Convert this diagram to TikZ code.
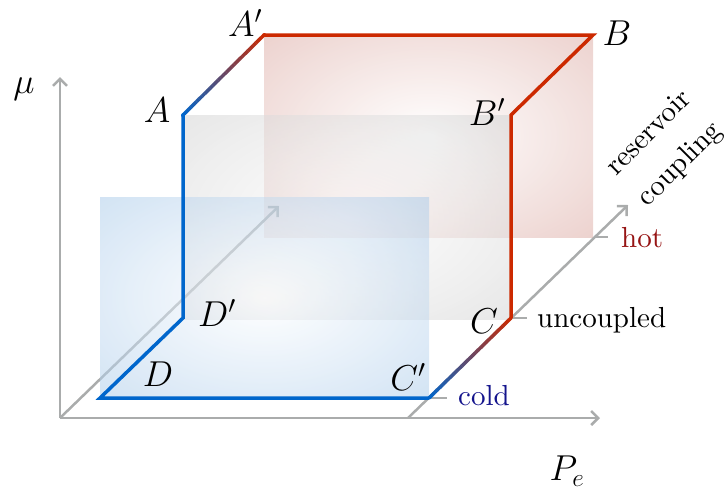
\RequirePackage{fix-cm}
\documentclass[tikz,border=0pt]{standalone}
\usetikzlibrary{arrows.meta,calc}
\definecolor{lblue}{RGB}{0,102,204}
\definecolor{lred}{RGB}{204,41,0}
\definecolor{axgray}{RGB}{170,172,172}
\definecolor{coldc}{RGB}{20,20,140}
\definecolor{hotc}{RGB}{150,20,20}
\definecolor{bluep}{RGB}{135,181,225}
\definecolor{grayp}{RGB}{192,192,192}
\definecolor{redp}{RGB}{205,135,125}
\pgfdeclareradialshading{shblue}{\pgfpoint{0bp}{0bp}}{color(0bp)=(white); color(50bp)=(bluep)}
\pgfdeclareradialshading{shgray}{\pgfpoint{0bp}{0bp}}{color(0bp)=(white); color(50bp)=(grayp)}
\pgfdeclareradialshading{shred}{\pgfpoint{0bp}{0bp}}{color(0bp)=(white); color(50bp)=(redp)}
\newcommand{\bigtxt}[1]{\scalebox{2.9}{\fontsize{10}{12}\selectfont #1}}
\begin{document}
\begin{tikzpicture}[x=1pt,y=-1pt,
  axis/.style={draw=axgray, line width=2.5pt, -{Straight Barb[length=7pt,width=14pt]}},
  tickline/.style={draw=axgray, line width=2.5pt},
  pathline/.style={line width=3.5pt, line cap=round, line join=miter},
  ptlabel/.style={font=\fontsize{36}{40}\selectfont, inner sep=0pt},
  txt/.style={inner sep=0pt},
  plane/.style={fill opacity=0.53}]
\useasboundingbox (0,0) rectangle (728,496);

% planes
\shade[plane, shading=shred] (264,35) rectangle (593,237);
\shade[plane, shading=shgray] (183,115) rectangle (511,319);

% axes
\coordinate (O) at (60,418);
\coordinate (mutip) at (60,77);
\coordinate (petip) at (600,418);
\coordinate (dtip) at (279,206);
\coordinate (S) at (408,418);
\coordinate (stip) at (628,205);
\draw[axis] (O) -- (dtip);

\shade[plane, shading=shblue] (100,197) rectangle (429,398);

\draw[axis] (O) -- (mutip);
\draw[axis] (O) -- (petip);
\draw[axis] (S) -- (stip);

% ticks
\coordinate (tc) at (447,398);
\coordinate (tu) at (527,318);
\coordinate (th0) at (594,237);
\coordinate (th) at (608,237);

% cycle corners
\coordinate (D) at (100,398);
\coordinate (Dp) at (183,318);
\coordinate (A) at (183,115);
\coordinate (Ap) at (264,35);
\coordinate (B) at (593,35);
\coordinate (Bp) at (511,115);
\coordinate (C) at (511,318);
\coordinate (Cp) at (429,398);

\draw[tickline] (Cp) -- (tc);
\draw[tickline] (C) -- (tu);
\draw[tickline] (th0) -- (th);

\draw[pathline, lblue] (A) -- (Dp) -- (D) -- (Cp);
\draw[pathline, lred] (Ap) -- (B) -- (Bp) -- (C);
\foreach \i in {0,...,29} {
  \pgfmathsetmacro\p{(\i+0.5)*100/30}
  \draw[line width=3.5pt, color=lred!\p!lblue] ($(A)!\i/30!(Ap)$) -- ($(A)!{(\i+1.05)/30}!(Ap)$);
  \draw[line width=3.5pt, color=lred!\p!lblue] ($(Cp)!\i/30!(C)$) -- ($(Cp)!{(\i+1.05)/30}!(C)$);
}
\draw[pathline, lred] (Ap) -- ++(0.5,0);
\draw[pathline, lblue] (A) -- ++(0,0.5);

% labels
\node[ptlabel] (lAp) at (245,23) {$A'$};
\node[ptlabel] (lA) at (157,110) {$A$};
\node[ptlabel] (lB) at (617,33) {$B$};
\node[ptlabel] (lBp) at (487,112) {$B'$};
\node[ptlabel] (lDp) at (217,313) {$D'$};
\node[ptlabel] (lD) at (158,374) {$D$};
\node[ptlabel] (lC) at (484,321) {$C$};
\node[ptlabel] (lCp) at (408,377) {$C'$};
\node[ptlabel] (lmu) at (24,89) {$\mu$};
\node[ptlabel] (lpe) at (567,471) {$P_e$};

\node[txt, anchor=base west, text=coldc] (lcold) at (458,405) {\bigtxt{cold}};
\node[txt, anchor=base west] (lunc) at (537,327) {\bigtxt{uncoupled}};
\node[txt, anchor=base west, text=hotc] (lhot) at (621,247) {\bigtxt{hot}};
\node[txt, rotate=45] (lres) at (665,149) {\bigtxt{\begin{tabular}{@{}c@{}}reservoir\\[3.2pt]coupling\end{tabular}}};
\end{tikzpicture}
\end{document}
